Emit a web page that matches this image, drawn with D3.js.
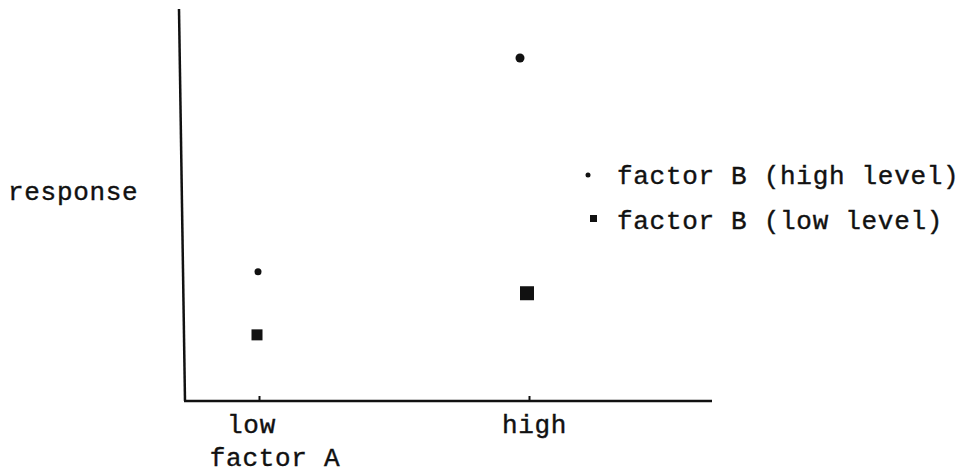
<!DOCTYPE html>
<html lang="en">
<head>
    <meta charset="UTF-8">
    <script src="https://d3js.org/d3.v7.min.js"></script>
    <title>Interaction plot</title>
    <style>
        body { margin: 0; background: #fff; }
        text { font-family: "Liberation Mono", monospace; fill: #111; stroke: #111; stroke-width: 0.4px; letter-spacing: 0.7px; }
    </style>
</head>
<body>
    <div id="chart"></div>
    <script>
        // data
        const factorA = ["low", "high"];
        const bHigh = [3.3, 8.75];   // factor B (high level)
        const bLow = [1.7, 2.8];     // factor B (low level)
        const legendLabels = ["factor B (high level)", "factor B (low level)"];

        const width = 962;
        const height = 473;

        const svg = d3.select("#chart")
            .append("svg")
            .attr("width", width)
            .attr("height", height);

        const xScale = d3.scalePoint()
            .domain(factorA)
            .range([259, 529]);

        const yScale = d3.scaleLinear()
            .domain([0, 10])
            .range([401, 9]);

        // axes lines (hand drawn look, slightly tilted y axis)
        svg.append("line")
            .attr("x1", 179).attr("y1", 9)
            .attr("x2", 185).attr("y2", yScale(0))
            .attr("stroke", "#111").attr("stroke-width", 2.5);

        svg.append("line")
            .attr("x1", 184).attr("y1", yScale(0))
            .attr("x2", 712).attr("y2", yScale(0))
            .attr("stroke", "#111").attr("stroke-width", 2.5);

        // x ticks + labels
        const xAxis = d3.axisBottom(xScale)
            .tickSize(-5)
            .tickSizeOuter(0)
            .tickPadding(14);

        const gx = svg.append("g")
            .attr("transform", `translate(0, ${yScale(0)})`)
            .call(xAxis);
        gx.select(".domain").remove();
        gx.selectAll(".tick line").attr("stroke", "#111").attr("stroke-width", 2);
        gx.selectAll(".tick text")
            .attr("font-size", 26)
            .attr("font-family", "Liberation Mono, monospace")
            .attr("fill", "#111")
            .attr("dx", (d, i) => i === 0 ? -8 : 5);

        // axis titles
        svg.append("text")
            .attr("x", 275)
            .attr("y", 466)
            .attr("text-anchor", "middle")
            .attr("font-size", 26)
            .text("factor A");

        svg.append("text")
            .attr("x", 8)
            .attr("y", 200)
            .attr("font-size", 26)
            .text("response");

        // factor B high level: dots (scan offsets per point)
        const dotR = [3.5, 4.5];
        const dotDx = [-1, -9];
        svg.selectAll(".dot")
            .data(bHigh)
            .join("circle")
            .attr("class", "dot")
            .attr("cx", (d, i) => xScale(factorA[i]) + dotDx[i])
            .attr("cy", d => yScale(d))
            .attr("r", (d, i) => dotR[i])
            .attr("fill", "#111");

        // factor B low level: squares
        const sqSize = [11, 14];
        svg.selectAll(".sq")
            .data(bLow)
            .join("rect")
            .attr("class", "sq")
            .attr("x", (d, i) => xScale(factorA[i]) - 2 - sqSize[i] / 2)
            .attr("y", d => yScale(d) - 5)
            .attr("width", (d, i) => sqSize[i])
            .attr("height", (d, i) => sqSize[i])
            .attr("fill", "#111");

        // legend
        const legend = svg.append("g");
        legend.append("circle")
            .attr("cx", 588).attr("cy", 175).attr("r", 2.5)
            .attr("fill", "#111");
        legend.append("rect")
            .attr("x", 590).attr("y", 215).attr("width", 7).attr("height", 7)
            .attr("fill", "#111");
        legend.selectAll("text")
            .data(legendLabels)
            .join("text")
            .attr("x", 617)
            .attr("y", (d, i) => 184 + i * 45)
            .attr("font-size", 26)
            .text(d => d);
    </script>
</body>
</html>
